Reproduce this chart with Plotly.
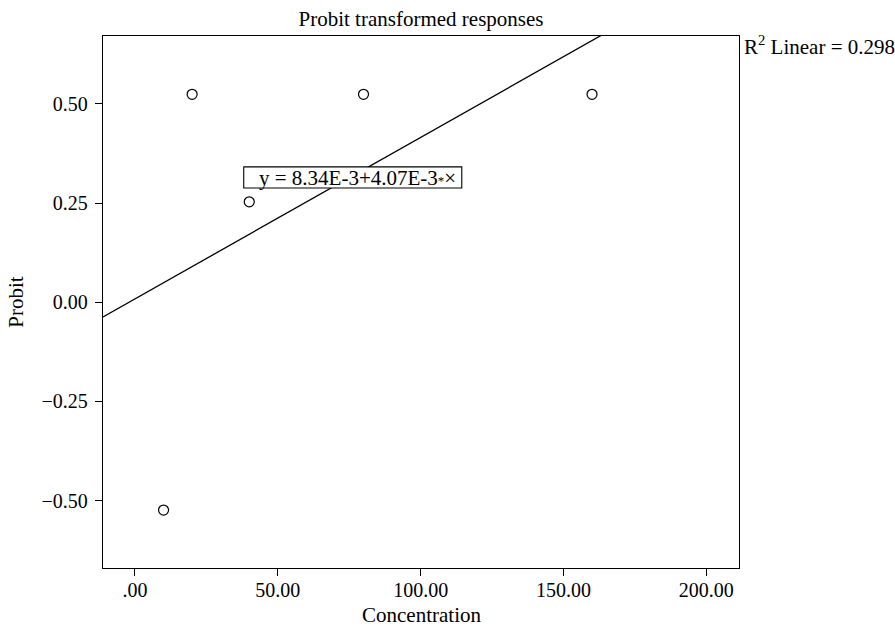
import plotly.graph_objects as go

# Data
concentration = [10, 20, 40, 80, 160]
probit = [-0.524, 0.524, 0.253, 0.524, 0.524]
intercept = 8.34e-3
slope = 4.07e-3
r2_text = "R<sup>2</sup> Linear = 0.298"
eq_text = "y = 8.34E-3+4.07E-3<span style='font-size:13px'>*</span>×"
x_title = "Concentration"
y_title = "Probit"
x_ticks = [0, 50, 100, 150, 200]
x_tick_labels = [".00", "50.00", "100.00", "150.00", "200.00"]
y_ticks = [-0.5, -0.25, 0, 0.25, 0.5]
y_tick_labels = ["\u22120.50", "\u22120.25", "0.00", "0.25", "0.50"]

x_range = [-11.2, 211.45]
y_range = [-0.67, 0.671]

FONT = "Liberation Serif"
TICK_SIZE = 20
TEXT_SIZE = 21

fit_x = [x_range[0], x_range[1]]
fit_y = [intercept + slope * v for v in fit_x]

fig = go.Figure()
fig.add_trace(go.Scatter(x=fit_x, y=fit_y, mode="lines",
                         line=dict(color="black", width=1.3),
                         hoverinfo="skip", showlegend=False, cliponaxis=True))
fig.add_trace(go.Scatter(x=concentration, y=probit, mode="markers",
                         marker=dict(symbol="circle-open", size=10,
                                     color="black", line=dict(width=1.2)),
                         showlegend=False))

axis_common = dict(showgrid=False, zeroline=False, showline=True, mirror=True,
                   linecolor="black", linewidth=1.3, ticks="outside",
                   ticklen=7, tickcolor="black", tickwidth=1.3,
                   automargin=False,
                   tickfont=dict(family=FONT, size=TICK_SIZE, color="black"))

fig.update_xaxes(range=x_range, tickvals=x_ticks, ticktext=x_tick_labels,
                 ticklabelstandoff=-3, **axis_common)
fig.update_yaxes(range=y_range, tickvals=y_ticks, ticktext=y_tick_labels,
                 ticklabelstandoff=3,
                 title=dict(text=y_title,
                            font=dict(family=FONT, size=TEXT_SIZE, color="black"),
                            standoff=12),
                 **axis_common)

# x-axis title
fig.add_annotation(x=0.5, y=0, xref="paper", yref="paper", text=x_title,
                   showarrow=False, xanchor="center", yanchor="middle", yshift=-47,
                   font=dict(family=FONT, size=TEXT_SIZE, color="black"))

# equation label box
fig.add_shape(type="rect", xref="x", yref="y", x0=38.07, x1=114.4,
              y0=0.288, y1=0.341, line=dict(color="black", width=1.1),
              fillcolor="white", layer="above")
fig.add_annotation(x=42.8, y=0.3133, xref="x", yref="y", text=eq_text,
                   showarrow=False, xanchor="left", yanchor="middle",
                   font=dict(family=FONT, size=TEXT_SIZE, color="black"))
fig.add_annotation(x=1, y=1.0, xref="paper", yref="paper", text=r2_text,
                   showarrow=False, xanchor="left", yanchor="middle",
                   xshift=3, yshift=-9,
                   font=dict(family=FONT, size=TEXT_SIZE, color="black"))

fig.update_layout(
    width=895, height=629,
    margin=dict(l=103, r=156, t=36, b=61, autoexpand=False),
    paper_bgcolor="white", plot_bgcolor="white",
    title=dict(text="Probit transformed responses", x=0.5, xref="paper",
               xanchor="center", y=1 - 19 / 629, yanchor="middle", yref="container",
               font=dict(family=FONT, size=TEXT_SIZE, color="black")),
)

fig.write_html("out.html", config={"displayModeBar": False},
               post_script="document.body.style.margin='0';document.body.style.padding='0';")
